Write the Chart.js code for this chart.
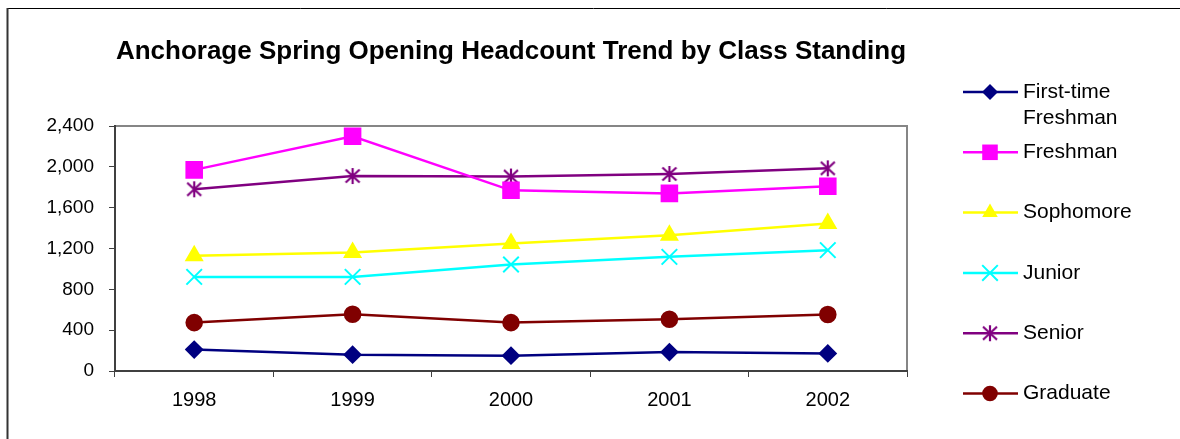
<!DOCTYPE html>
<html>
<head>
<meta charset="utf-8">
<script src="https://cdn.jsdelivr.net/npm/chart.js"></script>
<style>
    html, body { margin: 0; padding: 0; background: #fff; }
    #wrap { position: relative; width: 1180px; height: 439px; }
</style>
</head>
<body>
<div id="wrap"><canvas id="grafico" width="1180" height="439"></canvas></div>
<script>
// data
const anos = ['1998', '1999', '2000', '2001', '2002'];
const firstTimeFreshman = [210, 160, 150, 185, 172];
const freshman = [1970, 2300, 1770, 1740, 1810];
const sophomore = [1128, 1160, 1250, 1330, 1445];
const junior = [922, 922, 1043, 1118, 1184];
const senior = [1780, 1910, 1905, 1930, 1985];
const graduate = [474, 556, 474, 507, 553];
const ticksY = [0, 400, 800, 1200, 1600, 2000, 2400];

const fonte = '"Liberation Sans", Arial, sans-serif';

// Excel style star (vertical line + X)
function marcadorEstrela(cor) {
    const c = document.createElement('canvas');
    c.width = 18;
    c.height = 18;
    const ctx = c.getContext('2d');
    ctx.strokeStyle = cor;
    ctx.lineWidth = 2.2;
    ctx.beginPath();
    ctx.moveTo(9, 1); ctx.lineTo(9, 17);
    ctx.moveTo(2, 2.5); ctx.lineTo(16, 15.5);
    ctx.moveTo(16, 2.5); ctx.lineTo(2, 15.5);
    ctx.stroke();
    return c;
}

function serie(nome, valores, cor, estilo, raio) {
    return {
        label: nome,
        data: valores,
        borderColor: cor,
        backgroundColor: cor,
        borderWidth: 2.5,
        tension: 0,
        pointStyle: estilo,
        pointRadius: raio,
        pointHoverRadius: raio,
        pointBackgroundColor: cor,
        pointBorderColor: cor,
        pointBorderWidth: 2,
        clip: false
    };
}

// marker for the legend, same shapes as in the plot
function desenharMarcador(ctx, ds, x, y) {
    const r = ds.pointRadius;
    const estilo = ds.pointStyle;
    ctx.save();
    ctx.fillStyle = ds.pointBackgroundColor;
    ctx.strokeStyle = ds.pointBorderColor;
    ctx.lineWidth = 2;
    if (typeof estilo !== 'string') {
        ctx.drawImage(estilo, x - estilo.width / 2, y - estilo.height / 2);
    } else if (estilo === 'rectRot') {
        ctx.beginPath();
        ctx.moveTo(x, y - r); ctx.lineTo(x + r, y); ctx.lineTo(x, y + r); ctx.lineTo(x - r, y);
        ctx.closePath(); ctx.fill();
    } else if (estilo === 'rect') {
        const s = Math.SQRT1_2 * r;
        ctx.fillRect(x - s, y - s, 2 * s, 2 * s);
    } else if (estilo === 'triangle') {
        ctx.beginPath();
        ctx.moveTo(x, y - r);
        ctx.lineTo(x + r * 0.866, y + r / 2);
        ctx.lineTo(x - r * 0.866, y + r / 2);
        ctx.closePath(); ctx.fill();
    } else if (estilo === 'crossRot') {
        const d = Math.SQRT1_2 * r;
        ctx.beginPath();
        ctx.moveTo(x - d, y - d); ctx.lineTo(x + d, y + d);
        ctx.moveTo(x + d, y - d); ctx.lineTo(x - d, y + d);
        ctx.stroke();
    } else {
        ctx.beginPath();
        ctx.arc(x, y, r, 0, Math.PI * 2);
        ctx.fill();
    }
    ctx.restore();
}

const pluginMoldura = {
    id: 'moldura',
    beforeDraw(chart) {
        const ctx = chart.ctx;
        ctx.save();
        ctx.fillStyle = '#fff';
        ctx.fillRect(0, 0, chart.width, chart.height);
        // outer frame (only top and left visible)
        ctx.strokeStyle = '#000';
        ctx.lineWidth = 1;
        ctx.beginPath();
        ctx.moveTo(7, 8.5); ctx.lineTo(chart.width, 8.5);
        ctx.stroke();
        ctx.strokeStyle = '#333';
        ctx.lineWidth = 2;
        ctx.beginPath();
        ctx.moveTo(7.5, 8); ctx.lineTo(7.5, chart.height);
        ctx.stroke();
        // plot area border top/right
        const a = chart.chartArea;
        ctx.strokeStyle = '#868686';
        ctx.lineWidth = 2;
        ctx.beginPath();
        ctx.moveTo(a.left, a.top); ctx.lineTo(a.right, a.top); ctx.lineTo(a.right, a.bottom);
        ctx.stroke();
        ctx.restore();
    }
};

const pluginLegenda = {
    id: 'legendaExcel',
    afterDraw(chart) {
        const ctx = chart.ctx;
        const x0 = 963, x1 = 1018, xm = 990, xt = 1023;
        ctx.save();
        ctx.font = '21px ' + fonte;
        ctx.textBaseline = 'middle';
        chart.data.datasets.forEach(function (ds, i) {
            const y = 92 + i * 60.3;
            ctx.strokeStyle = ds.borderColor;
            ctx.lineWidth = 2.5;
            ctx.beginPath();
            ctx.moveTo(x0, y); ctx.lineTo(x1, y);
            ctx.stroke();
            desenharMarcador(ctx, ds, xm, y);
            // wrap long labels
            const linhas = [];
            let atual = '';
            ds.label.split(' ').forEach(function (p) {
                const teste = atual ? atual + ' ' + p : p;
                if (atual && ctx.measureText(teste).width > 145) {
                    linhas.push(atual);
                    atual = p;
                } else {
                    atual = teste;
                }
            });
            linhas.push(atual);
            ctx.fillStyle = '#000';
            linhas.forEach(function (l, k) {
                ctx.fillText(l, xt, y + k * 26.5);
            });
        });
        ctx.restore();
    }
};

function criarGraficoLinhas(id) {
    return new Chart(document.getElementById(id), {
        type: 'line',
        data: {
            labels: anos,
            datasets: [
                serie('First-time Freshman', firstTimeFreshman, '#000080', 'rectRot', 8),
                serie('Freshman', freshman, '#FF00FF', 'rect', 11),
                serie('Sophomore', sophomore, '#FFFF00', 'triangle', 9),
                serie('Junior', junior, '#00FFFF', 'crossRot', 11),
                serie('Senior', senior, '#800080', marcadorEstrela('#800080'), 9),
                serie('Graduate', graduate, '#800000', 'circle', 7.8)
            ]
        },
        options: {
            responsive: false,
            animation: false,
            devicePixelRatio: 1,
            layout: {
                padding: { left: 0, top: 0, right: 273, bottom: 0 }
            },
            plugins: {
                legend: { display: false },
                tooltip: { enabled: false },
                title: {
                    display: true,
                    fullSize: false,
                    text: 'Anchorage Spring Opening Headcount Trend by Class Standing',
                    color: '#000',
                    font: { family: fonte, size: 26, weight: 'bold', lineHeight: 1.2 },
                    padding: { top: 36.4, bottom: 58.4 }
                }
            },
            scales: {
                x: {
                    offset: true,
                    grid: {
                        offset: true,
                        drawOnChartArea: false,
                        drawTicks: true,
                        tickLength: 6,
                        tickColor: '#404040',
                        tickWidth: 1
                    },
                    border: { display: true, color: '#404040', width: 2 },
                    ticks: {
                        color: '#000',
                        font: { family: fonte, size: 20 },
                        padding: 11,
                        maxRotation: 0
                    },
                    afterFit: function (scale) { scale.height = 68; }
                },
                y: {
                    min: ticksY[0],
                    max: ticksY[ticksY.length - 1],
                    grid: {
                        drawOnChartArea: false,
                        drawTicks: true,
                        tickLength: 6,
                        tickColor: '#404040',
                        tickWidth: 1
                    },
                    border: { display: true, color: '#404040', width: 2 },
                    ticks: {
                        stepSize: ticksY[1] - ticksY[0],
                        color: '#000',
                        font: { family: fonte, size: 19 },
                        padding: 15,
                        callback: function (v) { return v.toLocaleString('en-US'); }
                    },
                    afterFit: function (scale) { scale.width = 115; }
                }
            }
        },
        plugins: [pluginMoldura, pluginLegenda]
    });
}

criarGraficoLinhas('grafico');
</script>
</body>
</html>
